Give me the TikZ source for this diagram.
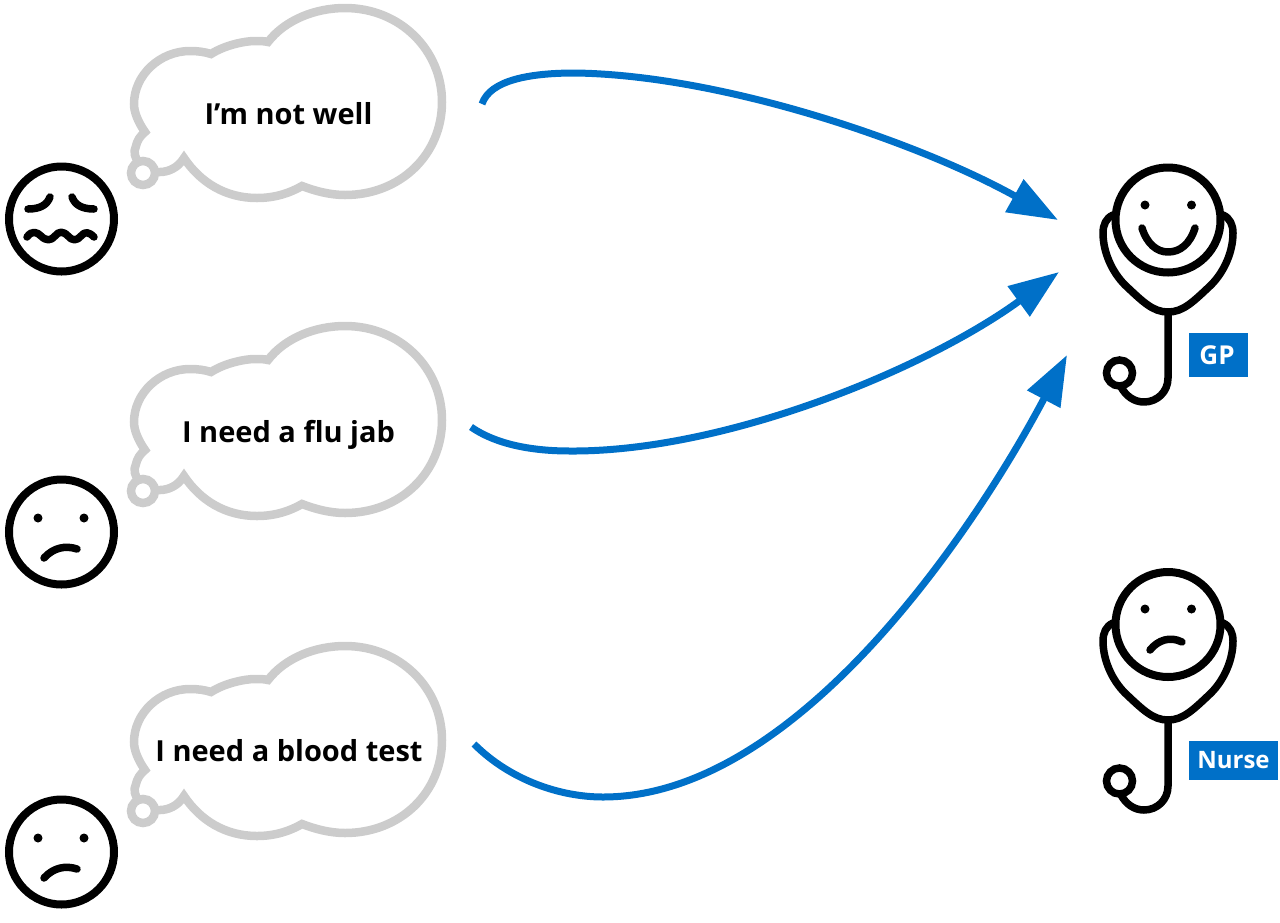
\documentclass[tikz,border=0pt]{standalone}
\usepackage{fontspec}
\setmainfont{Open Sans}
\usetikzlibrary{arrows.meta}
\definecolor{cloudgray}{HTML}{CCCCCC}
\definecolor{nhsblue}{HTML}{0070C8}
\tikzset{
  cloudline/.style={draw=cloudgray,fill=white,line width=8.5pt,line join=miter},
  faceline/.style={draw=black,line width=8pt},
  featureline/.style={draw=black,line width=7.5pt,line cap=round,line join=round},
  flowarrow/.style={draw=nhsblue,line width=7pt,-{Triangle[length=50pt,width=36pt,fill=nhsblue]}},
  thought/.style={font=\bfseries\fontsize{29}{30}\selectfont,text=black,inner sep=0pt,anchor=base},
  rolelabel/.style={fill=nhsblue,text=white,inner sep=0pt,anchor=center},
}
\newcommand{\thoughtcloud}[1]{%
  \begin{scope}[shift={(0,#1)}]
    \path[cloudline] (139,163) .. controls (135,158) and (133,152) .. (136,146)
      .. controls (137,141) and (140,136) .. (145,132)
      .. controls (138,122) and (134,112) .. (134,104)
      .. controls (134,75) and (160,51) .. (190,51)
      .. controls (198,51) and (205,52) .. (211,54)
      .. controls (225,45) and (245,41) .. (255,41)
      .. controls (260,41) and (264,41) .. (268,42)
      .. controls (285,20) and (315,8) .. (345,8)
      .. controls (400,8) and (442,50) .. (442,102)
      .. controls (442,155) and (400,195) .. (345,195)
      .. controls (330,195) and (315,191) .. (302,186)
      .. controls (290,193) and (275,198) .. (257,198)
      .. controls (225,198) and (200,182) .. (184,158)
      .. controls (178,168) and (168,172) .. (160,172)
      -- (155,172) -- cycle;
    \path[cloudline] (143,173) circle[radius=12];
  \end{scope}}
\newcommand{\sadface}[1]{%
  \begin{scope}[shift={(0,#1)}]
    \path[faceline] (61.5,219) circle[radius=52.5];
    \fill (38,205) circle[radius=4.5] (84,205) circle[radius=4.5];
    \path[featureline] (44,245) .. controls (53,235) and (65,232) .. (77,236);
  \end{scope}}
\newcommand{\stethoscope}[1]{%
  \begin{scope}[shift={(0,#1)}]
    \path[featureline] (1113,215) .. controls (1106,218) and (1103,225) .. (1103,233)
      .. controls (1103,252) and (1112,272) .. (1125,285)
      .. controls (1143,302) and (1153,312) .. (1168,312)
      .. controls (1183,312) and (1193,302) .. (1211,285)
      .. controls (1224,272) and (1233,252) .. (1233,233)
      .. controls (1233,225) and (1230,218) .. (1223,215);
    \path[featureline] (1168,312) -- (1168,378)
      .. controls (1168,392) and (1157,402) .. (1144,402)
      .. controls (1134,402) and (1126,396) .. (1121,387);
    \path[draw=black,line width=7.5pt] (1119.5,373) circle[radius=13];
  \end{scope}}
\begin{document}
\begin{tikzpicture}[x=1pt,y=-1pt]
  \useasboundingbox (0,0) rectangle (1280,922);
  \thoughtcloud{0}
  \thoughtcloud{318}
  \thoughtcloud{638}
  \node[thought] (t1) at (288.5,124) {I’m not well};
  \node[thought] (t2) at (288.5,442) {I need a flu jab};
  \node[thought] (t3) at (289,761) {I need a blood test};
  % worried patient
  \path[faceline] (61.5,219) circle[radius=52.5];
  \path[featureline] (28,209) .. controls (40,209) and (47,205) .. (50,197);
  \path[featureline] (94,209) .. controls (82,209) and (75,205) .. (72,197);
  \path[featureline] (27,237) .. controls (32,230) and (37,232) .. (41,236)
     .. controls (46,241) and (51,241) .. (55,236)
     .. controls (59,231) and (63,231) .. (68,236)
     .. controls (72,241) and (77,241) .. (81,236)
     .. controls (85,231) and (89,232) .. (94,237);
  \sadface{313}
  \sadface{633}
  % doctors
  \path[faceline] (1168,220) circle[radius=52.5];
  \fill (1145,205) circle[radius=4.5] (1191.5,205) circle[radius=4.5];
  \path[featureline] (1142,228) .. controls (1147,244) and (1157,252) .. (1168,252)
     .. controls (1180,252) and (1190,244) .. (1195,228);
  \stethoscope{0}
  \path[faceline] (1168,624.5) circle[radius=52.5];
  \fill (1145,609) circle[radius=4.5] (1191.5,609) circle[radius=4.5];
  \path[featureline] (1150,650) .. controls (1158,640) and (1170,636) .. (1182,642);
  \stethoscope{408}
  \node[rolelabel,minimum width=59pt,minimum height=44pt,font=\bfseries\fontsize{26}{28}\selectfont] (gp) at (1218.5,355) {\kern-3pt GP};
  \node[rolelabel,minimum width=89pt,minimum height=39pt,font=\bfseries\fontsize{24}{28}\selectfont] (nurse) at (1233.5,760.5) {Nurse};
  % connectors
  \coordinate (a1s) at (482,104); \coordinate (a1e) at (1058,220);
  \coordinate (a2s) at (471,427); \coordinate (a2e) at (1059,272);
  \coordinate (a3s) at (474,744); \coordinate (a3e) at (1067,355);
  \path[flowarrow] (a1s) .. controls (490,80) and (530,73) .. (575,73)
     .. controls (722,75) and (918,142) .. (a1e);
  \path[flowarrow] (a2s) .. controls (500,447) and (540,451) .. (570,451)
     .. controls (725,452) and (926,369) .. (a2e);
  \path[flowarrow] (a3s) .. controls (510,780) and (560,797) .. (603,797)
     .. controls (800,797) and (980,520) .. (a3e);
\end{tikzpicture}
\end{document}
